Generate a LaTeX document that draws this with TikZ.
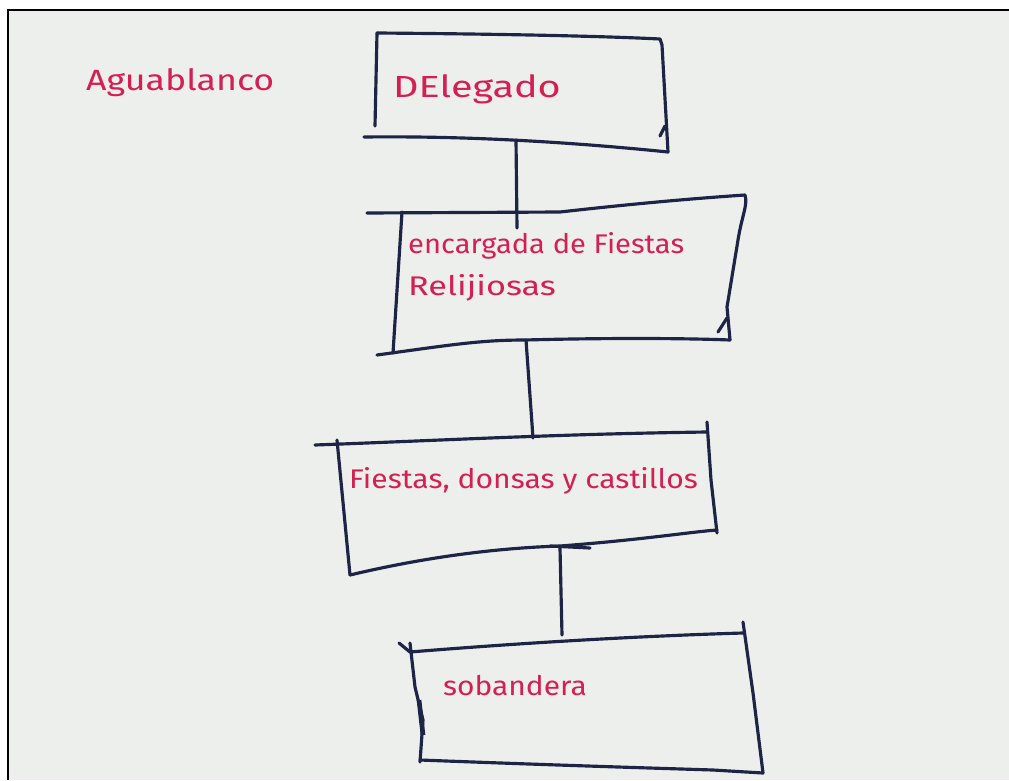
\documentclass[tikz,border=0pt]{standalone}
\usepackage{fontspec}
\setmainfont{Fira Sans}
\begin{document}
\begin{tikzpicture}[x=0.03cm,y=-0.03cm,
  pen/.style={draw=penblue,line width=2.7pt,line cap=round,line join=round},
  wire/.style={draw=penblue,line width=2.7pt,line cap=round},
  hand/.style={text=inkred,inner sep=0pt,anchor=base west,font=\fontsize{23}{27}\selectfont}]
\definecolor{penblue}{HTML}{1E2445}
\definecolor{inkred}{HTML}{D41F52}
\definecolor{paper}{HTML}{EDEFEC}
\useasboundingbox (0,0) rectangle (1009,780);
\fill[white] (0,0) rectangle (1009,780);
\fill[paper] (8,10) rectangle (1009,780);
\draw[black,line width=1.3pt] (8,780) -- (8,10) -- (1009,10);

% title
\node[hand,font=\fontsize{25}{29}\selectfont] (t0) at (86,90) {\scalebox{1.22}[1]{Aguablanco}};

% box 1
\draw[pen] (377,33) .. controls (500,34) and (600,36) .. (660,39) -- (662,45) -- (668,152);
\draw[pen] (377,33) -- (375,126);
\draw[pen] (364,137) .. controls (450,136) and (550,140) .. (668,152);
\draw[pen] (660,136) -- (665,126);
\node[hand,font=\fontsize{26}{30}\selectfont] (t1) at (393,97) {\scalebox{1.3}[1]{DElegado}};

% box 2
\draw[pen] (367,213) -- (560,212) .. controls (640,203) and (700,198) .. (745,195)
  .. controls (748,205) and (742,215) .. (738,240) -- (727,307) -- (730,340);
\draw[pen] (402,212) -- (393,353);
\draw[pen] (377,355) .. controls (450,345) and (480,340) .. (525,340) .. controls (600,338) and (680,338) .. (730,340);
\draw[pen] (727,318) -- (718,332);
\node[hand] (t2a) at (408,253) {\scalebox{1.08}[1]{encargada de Fiestas}};
\node[hand] (t2b) at (408,295) {\scalebox{1.27}[1]{Relijiosas}};

% box 3
\draw[pen] (315,445) .. controls (450,440) and (560,434) .. (707,432);
\draw[pen] (707,422) -- (711,480) -- (717,533);
\draw[pen] (337,440) -- (350,575);
\draw[pen] (350,575) .. controls (430,556) and (500,548) .. (560,546) .. controls (640,540) and (690,532) .. (717,530);
\draw[pen] (550,546) -- (590,548);
\node[hand] (t3) at (349,488) {\scalebox{1.115}[1]{Fiestas, donsas y castillos}};

% box 4
\draw[pen] (399,643) -- (410,652) .. controls (520,643) and (640,636) .. (743,633);
\draw[pen] (743,622) -- (753,693) -- (763,773);
\draw[pen] (410,643) -- (415,687) -- (423,720) -- (420,762);
\draw[line width=4pt,penblue] (419,700) -- (423,735);
\draw[pen] (420,760) .. controls (550,765) and (650,768) .. (713,770) -- (763,773);
\node[hand] (t4) at (443,695) {\scalebox{1.11}[1]{sobandera}};

% connectors
\coordinate (c1a) at (516,140);
\coordinate (c1b) at (517,228);
\coordinate (c2a) at (526,340);
\coordinate (c2b) at (533,438);
\coordinate (c3a) at (560,548);
\coordinate (c3b) at (562,635);
\draw[wire] (c1a) -- (c1b);
\draw[wire] (c2a) -- (c2b);
\draw[wire] (c3a) -- (c3b);
\end{tikzpicture}
\end{document}
